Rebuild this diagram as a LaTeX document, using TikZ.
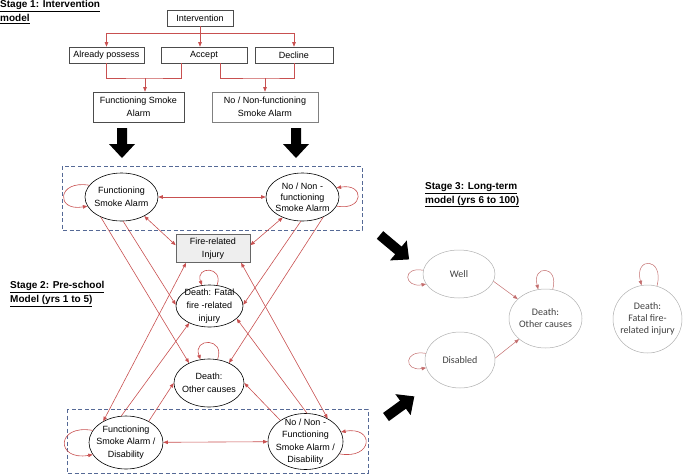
\documentclass[tikz,border=0pt]{standalone}
\usepackage{fontspec}
\setmainfont{Liberation Sans}
\newfontfamily\calibfont{Carlito}
\usetikzlibrary{shapes.geometric,arrows.meta,calc}
\definecolor{linkred}{RGB}{200,80,80}
\definecolor{frameblue}{RGB}{85,105,150}
\definecolor{injgray}{RGB}{238,238,238}
\definecolor{fadegray}{RGB}{175,175,175}
\definecolor{fadered}{RGB}{195,110,110}
\newcommand{\fatarrow}[3]{\fill[black,shift={#1},rotate=#2] (0,-5) -- ({#3-14},-5) -- ({#3-14},-13) -- (#3,0) -- ({#3-14},13) -- ({#3-14},5) -- (0,5) -- cycle;}

\begin{document}
\begin{tikzpicture}[x=1pt,y=-1pt,>={Triangle[length=4.5pt,width=3.5pt]},
  every node/.style={font=\fontsize{9}{12.5}\selectfont},
  sbox/.style={draw=black!70,line width=0.6pt,inner sep=1pt,align=center,minimum height=16},
  state/.style={ellipse,draw,line width=0.6pt,inner sep=-4pt,align=center},
  farstate/.style={ellipse,draw=fadegray,line width=0.5pt,inner sep=-6pt,align=center,text=black!75,font=\calibfont\fontsize{10}{12}\selectfont},
  link/.style={draw=linkred,line width=0.6pt},
  farlink/.style={draw=fadered,line width=0.5pt,->},
  stagebox/.style={draw=frameblue,line width=0.6pt,dash pattern=on 4pt off 2.5pt},
  title/.style={align=left,anchor=north west,inner sep=0pt,font=\bfseries\fontsize{10}{14}\selectfont}]
  \useasboundingbox (0,0) rectangle (685,474);

  % stage 1
  \node[title] (t1) at (0,0) {\underline{Stage 1: Intervention}\\\underline{model}};
  \node[sbox,minimum width=66] (int) at (200,18) {Intervention};
  \node[sbox,minimum width=75] (pos) at (106.5,55) {Already possess};
  \node[sbox,minimum width=86] (acc) at (204,55) {Accept};
  \node[sbox,minimum width=78] (dec) at (294,55) {Decline};
  \node[sbox,minimum width=91,minimum height=30,font=\fontsize{9}{13}\selectfont] (fsa0) at (138.5,107) {Functioning Smoke\\Alarm};
  \node[sbox,draw=black!50,minimum width=106,minimum height=30,font=\fontsize{9}{13}\selectfont] (nfsa0) at (265,107) {No / Non-functioning\\Smoke Alarm};
  \coordinate (split) at (200,33);
  \coordinate (joinA) at (145,78);
  \coordinate (joinB) at (265,78);
  \draw[link] (int) -- (split);
  \draw[link,->] (split) -| (pos);
  \draw[link,->] (split) -- (split |- acc.north);
  \draw[link,->] (split) -| (dec);
  \draw[link] (pos.south) |- (joinA) -| ($(acc.south)+(-23,0)$);
  \draw[link,->] (joinA) -- (joinA |- fsa0.north);
  \draw[link] ($(acc.south)+(16,0)$) |- (joinB) -| (dec.south);
  \draw[link,->] (joinB) -- (joinB |- nfsa0.north);

  \fatarrow{(122,128)}{-90}{30}
  \fatarrow{(296,128)}{-90}{30}
  \fatarrow{(380,235)}{-40}{38}
  \fatarrow{(386,417)}{36}{35}

  % stage 2
  \node[title] (t2) at (10,281) {\underline{Stage 2: Pre-school}\\\underline{Model (yrs 1 to 5)}};
  \draw[stagebox] (62,166) rectangle (362,230);
  \draw[stagebox] (67,409) rectangle (368,473);
  \node[state,minimum width=73,minimum height=48] (fsa) at (121.5,197) {Functioning\\Smoke Alarm};
  \node[state,minimum width=73,minimum height=48,font=\fontsize{9}{11}\selectfont] (nfsa) at (302.5,197) {No / Non -\\functioning\\Smoke Alarm};
  \node[draw=black!60,fill=injgray,line width=0.6pt,minimum width=74,minimum height=27,align=center,font=\fontsize{9}{13}\selectfont] (inj) at (213,248.5) {Fire-related\\Injury};
  \node[state,minimum width=67,minimum height=42,font=\fontsize{9}{13}\selectfont] (fatal) at (209.5,306) {Death: Fatal\\fire -related\\injury};
  \node[state,minimum width=70,minimum height=48,font=\fontsize{9}{13}\selectfont] (other) at (209,383) {Death:\\Other causes};
  \node[state,minimum width=74,minimum height=53] (fsad) at (126,442.5) {Functioning\\Smoke Alarm /\\Disability};
  \node[state,minimum width=75,minimum height=56] (nfsad) at (305.5,441.5) {No / Non -\\Functioning\\Smoke Alarm /\\Disability};

  \draw[link,<->] (fsa) -- (nfsa);
  \draw[link,<->] (fsa.-40) -- (inj.175);
  \draw[link,->] (fsa.-86) -- (fatal.178);
  \draw[link,->] (fsa.-136) -- (other.135);
  \draw[link,<->] (nfsa.-134) -- (inj.5);
  \draw[link,->] (nfsa.-94) -- (fatal.2);
  \draw[link,->] (nfsa.-44) -- (other.45);
  \draw[link,<->] (fsad) -- (nfsad);
  \draw[link,<->] (fsad.137) -- (inj.-152);
  \draw[link,->] (fsad.100) -- (fatal.-140);
  \draw[link,->] (fsad.43) -- (other.180);
  \draw[link,<->] (nfsad.46) -- (inj.-27);
  \draw[link,->] (nfsad.87) -- (fatal.-25);
  \draw[link,->] (nfsad.140) -- (other.0);
  % self loops
  \draw[link,->] (fsa.160) to[out=170,in=190,looseness=4] (fsa.195);
  \draw[link,->] (nfsa.-15) to[out=-10,in=10,looseness=4] (nfsa.15);
  \draw[link,->] (fatal.70) to[out=70,in=110,looseness=3.5] (fatal.110);
  \draw[link,->] (other.70) to[out=70,in=110,looseness=3.5] (other.110);
  \draw[link,->] (fsad.160) to[out=170,in=190,looseness=4] (fsad.200);
  \draw[link,->] (nfsad.-20) to[out=-10,in=10,looseness=4] (nfsad.15);

  % stage 3
  \node[title] (t3) at (425,182) {\underline{Stage 3: Long-term}\\\underline{model (yrs 6 to 100)}};
  \node[farstate,minimum width=72,minimum height=48] (well) at (459,274) {Well};
  \node[farstate,minimum width=70,minimum height=56] (dis) at (460,360) {Disabled};
  \node[farstate,minimum width=73,minimum height=59] (oth3) at (545.5,318.5) {Death:\\Other causes};
  \node[farstate,minimum width=69,minimum height=68] (fat3) at (647.5,319) {Death:\\Fatal fire-\\related injury};
  \draw[farlink] (well.-12) -- (oth3.145);
  \draw[farlink] (dis.3) -- (oth3.-142);
  \draw[farlink] (well.174) to[out=170,in=190,looseness=4] (well.197);
  \draw[farlink] (dis.169) to[out=170,in=190,looseness=4] (dis.193);
  \draw[farlink] (oth3.76) to[out=75,in=105,looseness=4.5] (oth3.104);
  \draw[farlink] (fat3.74) to[out=75,in=105,looseness=5] (fat3.100);
\end{tikzpicture}
\end{document}
